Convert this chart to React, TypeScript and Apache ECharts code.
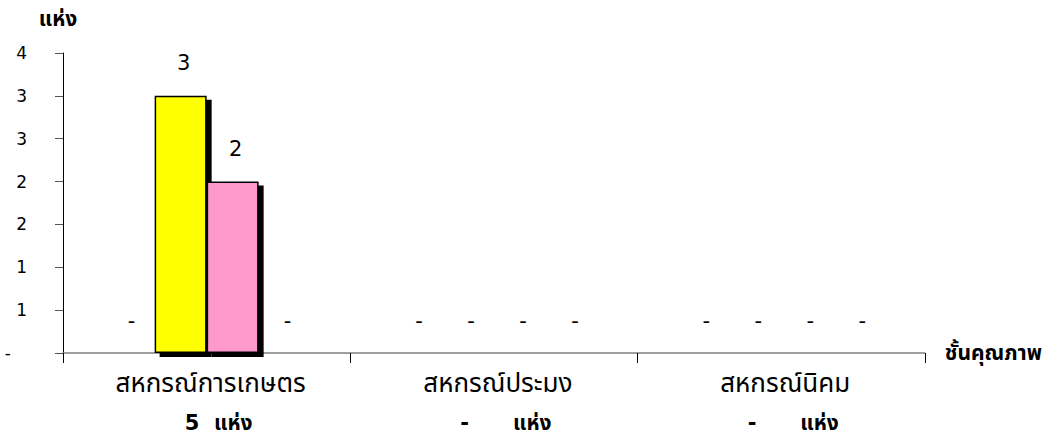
import React, { useEffect, useRef } from "react";
import * as echarts from "echarts";

const categories = ["สหกรณ์การเกษตร", "สหกรณ์ประมง", "สหกรณ์นิคม"];
const counts = [5, 0, 0];
const unitLabel = "แห่ง";
const seriesNames = ["ชั้น 1", "ชั้น 2", "ชั้น 3", "ไม่ผ่านเกณฑ์"];
const seriesColors = ["#9999FF", "#FFFF00", "#FF99CC", "#CCFFCC"];
const class1 = [0, 0, 0];
const class2 = [3, 0, 0];
const class3 = [2, 0, 0];
const class4 = [0, 0, 0];
const seriesValues = [class1, class2, class3, class4];
const yMin = 0;
const yMax = 3.5;
const yInterval = 0.5;

const FONT = "Tahoma, 'DejaVu Sans', 'Noto Sans Thai', 'Noto Sans', sans-serif";

export default function App() {
  const ref = useRef<HTMLDivElement>(null);
  useEffect(() => {
    document.body.style.margin = "0";
    const chart = echarts.init(ref.current!, null, { renderer: "svg" });
    const fmt = (v: number) => (v === 0 ? "-" : String(Math.round(v)));
    chart.setOption({
      animation: false,
      textStyle: { fontFamily: FONT },
      grid: { left: 63, top: 53, width: 862, height: 300 },
      xAxis: {
        type: "category",
        data: categories,
        name: "ชั้นคุณภาพ",
        nameLocation: "end",
        nameGap: 20,
        nameTextStyle: {
          fontFamily: FONT,
          fontSize: 21,
          fontWeight: "bold",
          color: "#000",
          verticalAlign: "middle",
          padding: [0, 0, 10, 0],
        },
        axisLine: { lineStyle: { color: "#808080", width: 1.5 } },
        axisTick: { show: true, length: 10, lineStyle: { color: "#000", width: 1 } },
        axisLabel: {
          margin: 10,
          interval: 0,
          formatter: (val: string, idx: number) =>
            `{a|${val}}\n{b|${counts[idx] === 0 ? "-      " : counts[idx] + "  "}${unitLabel}}`,
          rich: {
            a: { fontFamily: FONT, fontSize: 26, color: "#000", lineHeight: 40, padding: [0, 0, 0, 8] },
            b: { fontFamily: FONT, fontSize: 21, fontWeight: "bold", color: "#000", lineHeight: 40, padding: [0, 0, 0, 24] },
          },
        },
      },
      yAxis: {
        type: "value",
        min: yMin,
        max: yMax,
        interval: yInterval,
        name: unitLabel,
        nameLocation: "end",
        nameGap: 24,
        nameTextStyle: {
          fontFamily: FONT,
          fontSize: 21,
          fontWeight: "bold",
          color: "#000",
          align: "center",
          padding: [0, 10, 0, 0],
        },
        splitLine: { show: false },
        axisLine: { show: true, lineStyle: { color: "#000", width: 1 } },
        axisTick: { show: true, length: 8, lineStyle: { color: "#555" } },
        axisLabel: {
          margin: 36,
          fontSize: 17,
          color: "#000",
          fontFamily: FONT,
          formatter: (v: number) => (v === 0 ? "{d|-}" : fmt(v)),
          rich: { d: { fontSize: 17, color: "#000", padding: [0, 16, 0, 0] } },
        },
      },
      series: seriesValues.map((vals, si) => ({
        name: seriesNames[si],
        type: "bar",
        barGap: "0%",
        barCategoryGap: "27.6%",
        data: vals.map((v) =>
          v === 0
            ? { value: v, itemStyle: { borderWidth: 0, shadowColor: "rgba(0,0,0,0)" } }
            : v
        ),
        itemStyle: {
          color: seriesColors[si],
          borderColor: "#000",
          borderWidth: 1.5,
          shadowColor: "#000",
          shadowBlur: 0,
          shadowOffsetX: 5,
          shadowOffsetY: 4,
        },
        label: {
          show: true,
          position: "top",
          distance: 22,
          offset: [3, 0],
          fontSize: 21,
          color: "#000",
          fontFamily: FONT,
          formatter: (p: any) => (p.value === 0 ? "-" : String(p.value)),
        },
      })),
    });
    return () => chart.dispose();
  }, []);
  return <div ref={ref} style={{ width: 1045, height: 441 }} />;
}
